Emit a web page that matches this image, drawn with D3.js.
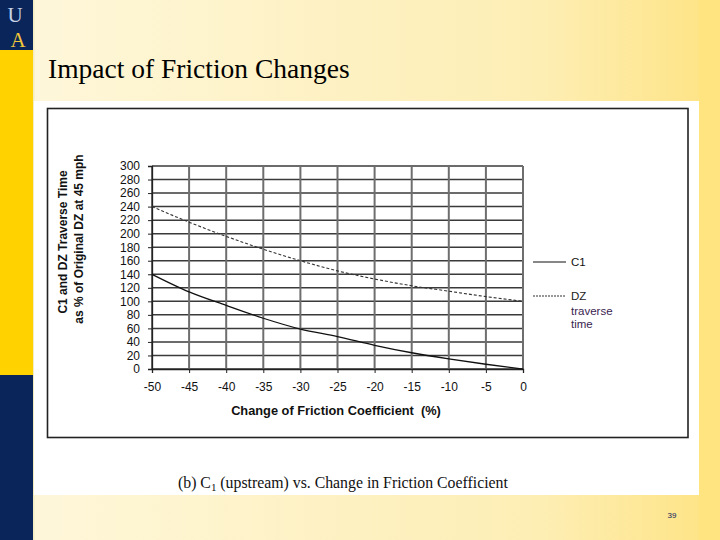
<!DOCTYPE html>
<html><head><meta charset="utf-8">
<script src="https://cdn.jsdelivr.net/npm/d3@7"></script>
<style>html,body{margin:0;padding:0;background:#fff;}svg{display:block;}</style>
</head><body>
<svg id="c" width="720" height="540"></svg>
<script>
const frictionChange = [-50, -45, -40, -35, -30, -25, -20, -15, -10, -5, 0];
const c1Values = [140, 114, 94, 75, 59, 48, 35, 24, 15, 7, 0];
const dzValues = [240, 217, 196, 177, 160, 145, 133, 123, 115, 107, 100];
const yTicks = [0, 20, 40, 60, 80, 100, 120, 140, 160, 180, 200, 220, 240, 260, 280, 300];
const xTicks = [-50, -45, -40, -35, -30, -25, -20, -15, -10, -5, 0];
const seriesNames = ["C1", "DZ"];

const svg = d3.select("#c");
const defs = svg.append("defs");
const g1 = defs.append("linearGradient").attr("id","bg").attr("x1","0").attr("y1","0").attr("x2","1").attr("y2","0");
g1.append("stop").attr("offset","0").attr("stop-color","#fef7dc");
g1.append("stop").attr("offset","0.75").attr("stop-color","#fdeeb4");
g1.append("stop").attr("offset","1").attr("stop-color","#fee383");

svg.append("rect").attr("x",0).attr("y",0).attr("width",720).attr("height",540).attr("fill","url(#bg)");
svg.append("rect").attr("x",699).attr("y",0).attr("width",21).attr("height",540).attr("fill","#ffe480");
// left stripe
svg.append("rect").attr("x",0).attr("y",0).attr("width",33).attr("height",540).attr("fill","#0a2559");
svg.append("rect").attr("x",0).attr("y",50).attr("width",33).attr("height",325).attr("fill","#ffd200");
svg.append("rect").attr("x",33).attr("y",0).attr("width",1.5).attr("height",540).attr("fill","#f3ecc0");
svg.append("text").attr("x",15).attr("y",22).attr("text-anchor","middle").attr("font-family","Liberation Serif, serif")
  .attr("font-size",21).attr("fill","#c9d3e8").text("U");
svg.append("text").attr("x",18).attr("y",47).attr("text-anchor","middle").attr("font-family","Liberation Serif, serif")
  .attr("font-size",21).attr("fill","#f2c73a").text("A");

// title
svg.append("text").attr("x",48).attr("y",78).attr("font-family","Liberation Serif, serif").attr("font-size",27.5)
  .attr("fill","#000").text("Impact of Friction Changes");

// white picture
svg.append("rect").attr("x",34).attr("y",101).attr("width",665).attr("height",394).attr("fill","#fff");
svg.append("rect").attr("x",47.5).attr("y",108.5).attr("width",640.5).attr("height",329).attr("fill","none")
  .attr("stroke","#222").attr("stroke-width",1.6);

const x = d3.scaleLinear().domain([-50,0]).range([152,523]);
const y = d3.scaleLinear().domain([0,300]).range([369,166]);

const grid = svg.append("g");
grid.selectAll("line.h").data(yTicks).join("line").attr("class","h")
  .attr("x1",x(-50)).attr("x2",x(0)).attr("y1",d=>y(d)).attr("y2",d=>y(d))
  .attr("stroke","#3a3a3a").attr("stroke-width",1.5);
grid.selectAll("line.v").data(xTicks).join("line").attr("class","v")
  .attr("x1",d=>x(d)).attr("x2",d=>x(d)).attr("y1",y(0)).attr("y2",y(300))
  .attr("stroke","#6e6e6e").attr("stroke-width",2);

const yAxis = svg.append("g").attr("transform",`translate(${x(-50)},0)`)
  .call(d3.axisLeft(y).tickValues(yTicks).tickFormat(d=>String(d)).tickSize(4).tickPadding(8));
const xAxis = svg.append("g").attr("transform",`translate(0,${y(0)})`)
  .call(d3.axisBottom(x).tickValues(xTicks).tickFormat(d=>String(d)).tickSize(4).tickPadding(9));
[yAxis,xAxis].forEach(a=>{
  a.select(".domain").attr("stroke","#222").attr("stroke-width",1.3);
  a.selectAll(".tick line").attr("stroke","#222");
  a.selectAll("text").attr("font-family","Liberation Sans, Arial, sans-serif").attr("font-size",12).attr("fill","#111");
});

const data = frictionChange.map((v,i)=>({x:v,c1:c1Values[i],dz:dzValues[i]}));
const lc1 = d3.line().x(d=>x(d.x)).y(d=>y(d.c1)).curve(d3.curveMonotoneX);
const ldz = d3.line().x(d=>x(d.x)).y(d=>y(d.dz)).curve(d3.curveMonotoneX);
svg.append("path").datum(data).attr("d",lc1).attr("fill","none").attr("stroke","#111").attr("stroke-width",1.3);
svg.append("path").datum(data).attr("d",ldz).attr("fill","none").attr("stroke","#333").attr("stroke-width",1.1).attr("stroke-dasharray","3,2");

// axis titles
const ff = "Liberation Sans, Arial, sans-serif";
svg.append("text").attr("transform","translate(67,242) rotate(-90)").attr("text-anchor","middle")
  .attr("font-family",ff).attr("font-weight","bold").attr("font-size",12).attr("fill","#111").text("C1 and DZ Traverse Time");
svg.append("text").attr("transform","translate(83,239) rotate(-90)").attr("text-anchor","middle")
  .attr("font-family",ff).attr("font-weight","bold").attr("font-size",12).attr("fill","#111").text("as % of Original DZ at 45 mph");
svg.append("text").attr("x",336).attr("y",415).attr("text-anchor","middle")
  .attr("font-family",ff).attr("font-weight","bold").attr("font-size",12.8).attr("fill","#111").attr("xml:space","preserve")
  .text("Change of Friction Coefficient  (%)");

// legend
svg.append("line").attr("x1",533).attr("x2",566).attr("y1",262).attr("y2",262).attr("stroke","#111").attr("stroke-width",1.2);
svg.append("text").attr("x",571).attr("y",266).attr("font-family",ff).attr("font-size",11.5).attr("fill","#111").text(seriesNames[0]);
svg.append("line").attr("x1",533).attr("x2",566).attr("y1",296).attr("y2",296).attr("stroke","#333").attr("stroke-width",1.1).attr("stroke-dasharray","2,1");
const lt = svg.append("text").attr("font-family",ff).attr("font-size",11.5).attr("fill","#222");
lt.append("tspan").attr("x",571).attr("y",300).text(seriesNames[1]);
lt.append("tspan").attr("x",571).attr("y",315).attr("fill","#3a2450").text("traverse");
lt.append("tspan").attr("x",571).attr("y",328).attr("fill","#3a2450").text("time");

// caption
const cap = svg.append("text").attr("x",178).attr("y",488).attr("font-family","Liberation Serif, serif").attr("font-size",15.8).attr("fill","#111");
cap.append("tspan").text("(b) C");
cap.append("tspan").attr("font-size",11).attr("dy",3).text("1");
cap.append("tspan").attr("dy",-3).text(" (upstream) vs. Change in Friction Coefficient");

svg.append("text").attr("x",672).attr("y",518).attr("text-anchor","middle").attr("font-family",ff).attr("font-size",8)
  .attr("fill","#0a1a5c").text("39");
</script>
</body></html>
